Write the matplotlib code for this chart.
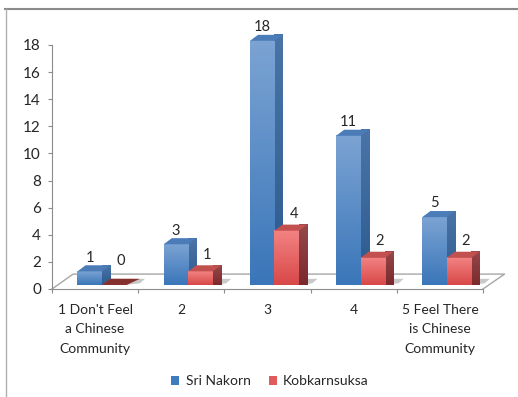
import numpy as np
import matplotlib
matplotlib.use('Agg')
import matplotlib.pyplot as plt
from matplotlib.patches import Polygon, Patch
from matplotlib.colors import LinearSegmentedColormap

plt.rcParams['font.family'] = ['Lato', 'DejaVu Sans']

categories = ["1 Don't Feel\na Chinese\nCommunity", '2', '3', '4', '5 Feel There\nis Chinese\nCommunity']
sri_nakorn = [1, 3, 18, 11, 5]
kobkarnsuksa = [0, 1, 4, 2, 2]
y_ticks = [0, 2, 4, 6, 8, 10, 12, 14, 16, 18]

text_color = '#262626'
axis_color = '#8c8c8c'

# bar sizes in data units, the 3d look is faked with polygons
bar_w = 0.285
depth_x = 0.095
depth_y = 0.45
base = 0.3
center = 0.58

fig = plt.figure(figsize=(5.18, 3.97), dpi=100)
ax = fig.add_axes([52 / 518, 1 - 289 / 397, 431 / 518, 244 / 397])
ax.set_xlim(0, 5)
ax.set_ylim(0, 18)


def draw_bar(x, v, front_cols, side_cols, top_col, z):
    top = base + v
    # floor shadow
    ax.add_patch(Polygon([(x + bar_w, base), (x + bar_w + depth_x + 0.06, base + 0.12),
                          (x + bar_w + depth_x + 0.12, base + depth_y), (x + bar_w + depth_x, base + depth_y)],
                         closed=True, fc='#c9c9c9', ec='none', zorder=z - 1, clip_on=False))
    if v > 0:
        cmap = LinearSegmentedColormap.from_list('f', front_cols)
        ax.imshow(np.linspace(0, 1, 64).reshape(-1, 1), cmap=cmap, aspect='auto', origin='upper',
                  extent=(x, x + bar_w, base, top), zorder=z + 1, clip_on=False)
        cmap2 = LinearSegmentedColormap.from_list('s', side_cols)
        im = ax.imshow(np.linspace(0, 1, 64).reshape(-1, 1), cmap=cmap2, aspect='auto', origin='upper',
                       extent=(x + bar_w, x + bar_w + depth_x, base, top + depth_y), zorder=z, clip_on=False)
        side = Polygon([(x + bar_w, base), (x + bar_w + depth_x, base + depth_y),
                        (x + bar_w + depth_x, top + depth_y), (x + bar_w, top)],
                       closed=True, transform=ax.transData, fc='none', ec='none')
        ax.add_patch(side)
        im.set_clip_path(side)
    ax.add_patch(Polygon([(x, top), (x + depth_x, top + depth_y),
                          (x + bar_w + depth_x, top + depth_y), (x + bar_w, top)],
                         closed=True, fc=top_col, ec='none', zorder=z + 1, clip_on=False))


# floor of the chart
ax.plot([0, 0.245, 5.25, 5], [0, 1.1, 1.1, 0], color='#a6a6a6', lw=1, zorder=1, clip_on=False)

blue_front = ['#7ba3d3', '#3a76b9']
blue_side = ['#4a74a8', '#2c5a8e']
red_front = ['#f38383', '#d84848']
red_side = ['#96474a', '#7a2a2c']

for i in range(5):
    x0 = i + center - bar_w
    draw_bar(x0, sri_nakorn[i], blue_front, blue_side, '#4b7cb8', 3)
    draw_bar(x0 + bar_w, kobkarnsuksa[i], red_front, red_side, '#c2504f', 6)

# zero height bar is only a flat dark shape on the floor
ax.add_patch(Polygon([(center, base), (center + depth_x, base + depth_y), (center + bar_w + depth_x + 0.06, base + depth_y),
                      (center + bar_w, base)], closed=True, fc='#84302f', ec='none', zorder=7, clip_on=False))

for i in range(5):
    x0 = i + center - bar_w
    ax.annotate(str(sri_nakorn[i]), (x0 + bar_w / 2, base + sri_nakorn[i] + depth_y), xytext=(0, 5.5),
                textcoords='offset points', ha='center', va='center', fontsize=10.5, color=text_color,
                zorder=10, annotation_clip=False)
    dy = 13 if kobkarnsuksa[i] == 0 else 7.5
    ax.annotate(str(kobkarnsuksa[i]), (x0 + 1.5 * bar_w, base + kobkarnsuksa[i] + depth_y), xytext=(5, dy),
                textcoords='offset points', ha='center', va='center', fontsize=10.5, color=text_color,
                zorder=10, annotation_clip=False)

for s in ['top', 'right']:
    ax.spines[s].set_visible(False)
for s in ['left', 'bottom']:
    ax.spines[s].set_color(axis_color)
ax.set_facecolor('none')
ax.set_yticks(y_ticks)
ax.set_xticks(range(6))
ax.set_xticklabels([])
ax.set_xticks(np.arange(5) + 0.5, categories, minor=True, linespacing=1.72)
ax.tick_params(axis='x', which='minor', length=0, pad=11, labelsize=10, labelcolor=text_color)
ax.tick_params(axis='x', which='major', length=3, color=axis_color)
ax.tick_params(axis='y', length=3, color=axis_color, labelsize=11, labelcolor=text_color, pad=5)

fig.legend(handles=[Patch(fc='#3f7cbf', label='Sri Nakorn'), Patch(fc='#e05c5c', label='Kobkarnsuksa')],
           loc='center', bbox_to_anchor=(270 / 518, 1 - 381 / 397), ncol=2, frameon=False, fontsize=10,
           handlelength=0.6, handleheight=0.6, handletextpad=0.45, columnspacing=1.3, labelcolor=text_color)

# frame remains from the screenshot
fig.add_artist(plt.Line2D([5 / 518, 1], [1 - 9 / 397, 1 - 9 / 397], color='#8a8a8a', lw=1.5))
fig.add_artist(plt.Line2D([5.5 / 518, 5.5 / 518], [1 - 9 / 397, 0], color='#b0b0b0', lw=1))

plt.savefig('out.png', dpi=100)
